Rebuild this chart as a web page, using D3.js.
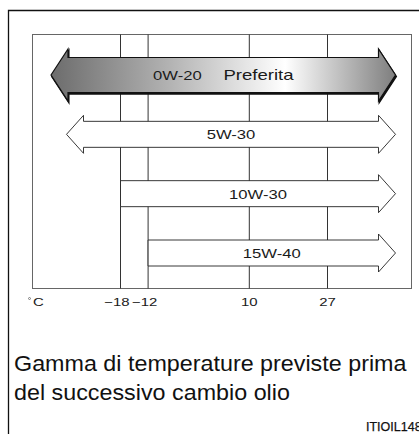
<!DOCTYPE html>
<html>
<head>
<meta charset="utf-8">
<script src="https://cdn.jsdelivr.net/npm/d3@7/dist/d3.min.js"></script>
<style>
  html, body { margin: 0; padding: 0; background: #fff; }
  svg { display: block; font-family: "Liberation Sans", Arial, sans-serif; }
</style>
</head>
<body>
<svg width="419" height="434"></svg>
<script>
'use strict';

// oil grades, temperature limits (null = open ended)
const oils = ["0W-20", "5W-30", "10W-30", "15W-40"];
const minTemp = [null, null, -18, -12];
const maxTemp = [null, null, null, null];
const preferred = [true, false, false, false];
const preferredLabel = "Preferita";

const tickTemps = [-18, -12, 10, 27];
const tickLabels = ["\u221218", "\u221212", "10", "27"];
const unitLabel = "C";
const titleLines = ["Gamma di temperature previste prima", "del successivo cambio olio"];
const codeLabel = "ITIOIL148";

const W = 419, H = 434;
const plot = { left: 32.5, top: 34.5, right: 411.5, bottom: 288.5 };

const svg = d3.select("svg");

const x = d3.scaleLinear().domain([-18, 27]).range([120.5, 327.5]);
const y = d3.scalePoint().domain(oils).range([75, 253]);

// gradient for the preferred arrow
const grad = svg.append("defs").append("linearGradient")
  .attr("id", "prefGrad")
  .attr("x1", "0%").attr("x2", "100%").attr("y1", "0%").attr("y2", "0%");
grad.append("stop").attr("offset", "0%").attr("stop-color", "#6c6c6c");
grad.append("stop").attr("offset", "35%").attr("stop-color", "#b4b4b4");
grad.append("stop").attr("offset", "68%").attr("stop-color", "#ffffff");
grad.append("stop").attr("offset", "100%").attr("stop-color", "#7e7e7e");

// outer frame (only top and left visible)
svg.append("path")
  .attr("d", `M8.5,${H} V10.5 H${W}`)
  .attr("fill", "none").attr("stroke", "#111").attr("stroke-width", 1.3);

// plot box
svg.append("rect")
  .attr("x", plot.left).attr("y", plot.top)
  .attr("width", plot.right - plot.left).attr("height", plot.bottom - plot.top)
  .attr("fill", "none").attr("stroke", "#666").attr("stroke-width", 1);

// vertical grid lines
svg.append("g").selectAll("line")
  .data(tickTemps).enter().append("line")
  .attr("x1", d => x(d)).attr("x2", d => x(d))
  .attr("y1", plot.top).attr("y2", plot.bottom)
  .attr("stroke", "#333").attr("stroke-width", 1);

// arrows
const line = d3.line();
const headLen = 17;

function arrowPoints(i) {
  const cy = y(oils[i]);
  const sh = preferred[i] ? 17.5 : 13;   // shaft half height
  const hh = preferred[i] ? 26 : 19;     // head half height
  const openLeft = minTemp[i] === null;
  const x0 = openLeft ? plot.left + (preferred[i] ? 18.5 : 34) : x(minTemp[i]);
  const x1 = maxTemp[i] === null ? plot.right - 16 : x(maxTemp[i]);
  const pts = [];
  if (openLeft) {
    pts.push([x0, cy], [x0 + headLen, cy - hh], [x0 + headLen, cy - sh]);
  } else {
    pts.push([x0, cy - sh]);
  }
  pts.push([x1 - headLen, cy - sh], [x1 - headLen, cy - hh], [x1, cy],
           [x1 - headLen, cy + hh], [x1 - headLen, cy + sh]);
  if (openLeft) {
    pts.push([x0 + headLen, cy + sh], [x0 + headLen, cy + hh]);
  } else {
    pts.push([x0, cy + sh]);
  }
  return { pts, x0, x1, cy };
}

const arrows = oils.map((d, i) => Object.assign({ name: d, i }, arrowPoints(i)));

const ag = svg.append("g");

// shadow under the preferred arrow
ag.selectAll("path.shadow")
  .data(arrows.filter(d => preferred[d.i])).enter().append("path")
  .attr("class", "shadow")
  .attr("transform", "translate(0.8,1.6)")
  .attr("d", d => line(d.pts) + "Z")
  .attr("fill", "#111").attr("stroke", "#111").attr("stroke-width", 1.5)
  .attr("stroke-linejoin", "miter");

ag.selectAll("path.arrow")
  .data(arrows).enter().append("path")
  .attr("class", "arrow")
  .attr("d", d => line(d.pts) + "Z")
  .attr("fill", d => preferred[d.i] ? "url(#prefGrad)" : "#fff")
  .attr("stroke", d => preferred[d.i] ? "#111" : "#222")
  .attr("stroke-width", d => preferred[d.i] ? 1.2 : 0.9)
  .attr("stroke-linejoin", "miter");

// arrow labels (glyphs are drawn wide in the reference)
const sx = 1.28;
const lab = ag.selectAll("g.lab")
  .data(arrows).enter().append("g")
  .attr("class", "lab")
  .attr("transform", d => `translate(${(d.x0 + d.x1) / 2},${d.cy + 5}) scale(${sx},1)`);

lab.append("text")
  .attr("text-anchor", "middle")
  .attr("font-size", 13)
  .attr("fill", "#1a1a1a")
  .each(function (d) {
    const t = d3.select(this);
    t.append("tspan").text(d.name);
    if (preferred[d.i]) {
      t.append("tspan").attr("dx", 17).attr("font-size", 14.5).text(preferredLabel);
    }
  });

// axis tick labels
const tl = svg.append("g").selectAll("g")
  .data(tickTemps).enter().append("g")
  .attr("transform", (d, i) => `translate(${x(d) + (d < 0 ? -3.5 : 0)},305.5) scale(1.3,1)`);
tl.append("text")
  .attr("text-anchor", "middle")
  .attr("font-size", 11.5)
  .attr("fill", "#1a1a1a")
  .text((d, i) => tickLabels[i]);

// unit label
const ul = svg.append("g").attr("transform", "translate(33,305.5) scale(1.3,1)");
ul.append("text").attr("font-size", 11.5).attr("fill", "#1a1a1a").text(unitLabel);
svg.append("circle").attr("cx", 29.5).attr("cy", 298.5).attr("r", 1)
  .attr("fill", "none").attr("stroke", "#444").attr("stroke-width", 0.6);

// title
svg.append("g").attr("transform", "translate(14,0) scale(1.06,1)")
  .selectAll("text")
  .data(titleLines).enter().append("text")
  .attr("x", 0).attr("y", (d, i) => 371 + i * 29)
  .attr("font-size", 22)
  .attr("fill", "#111")
  .text(d => d);

// figure code
svg.append("text")
  .attr("x", 366).attr("y", 431)
  .attr("font-size", 12.5)
  .attr("fill", "#111")
  .attr("stroke", "#111").attr("stroke-width", 0.25)
  .text(codeLabel);
</script>
</body>
</html>
